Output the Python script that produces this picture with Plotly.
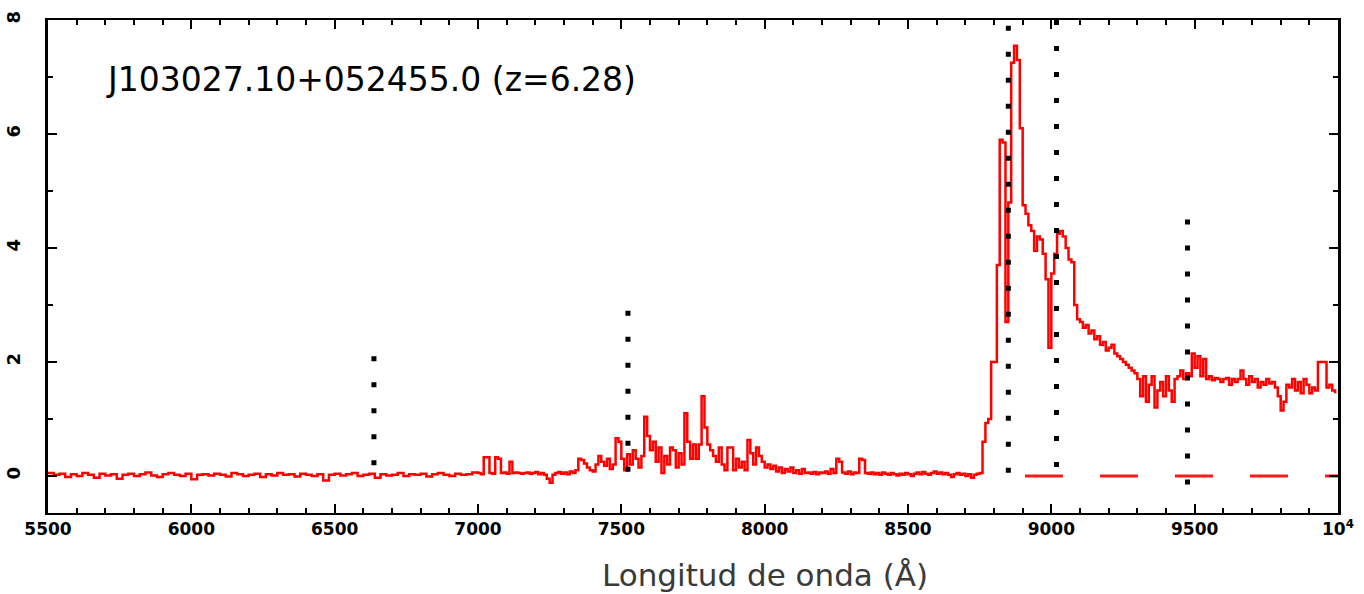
import numpy as np
import plotly.graph_objects as go

# ---------------- data ----------------
# Blue part of the spectrum: 5500-6980 A, 20 A bins
blue_start, blue_step = 5500, 20
blue_flux = [0.05, 0.02, 0.04, -0.02, 0.03, 0.00, 0.05, 0.02, -0.03, 0.04,
             0.01, 0.03, -0.05, 0.02, 0.04, 0.00, 0.03, 0.06, 0.01, -0.02,
             0.03, 0.05, 0.02, 0.00, 0.04, -0.06, 0.02, 0.03, 0.01, 0.04,
             0.02, -0.01, 0.05, 0.03, 0.00, 0.02, 0.04, -0.02, 0.03, 0.01,
             0.05, 0.02, 0.03, -0.01, 0.04, 0.02, 0.00, 0.03, -0.08, 0.02,
             0.04, 0.01, 0.03, 0.05, 0.00, 0.02, 0.04, -0.03, 0.03, 0.01,
             0.02, 0.05, 0.00, 0.03, 0.02, 0.04, -0.01, 0.03, 0.05, 0.02,
             0.00, 0.04, 0.02, 0.03, 0.06]

# Middle part: 7000-8750 A, 10 A bins
mid_start, mid_step = 7000, 10
mid_flux = [0.05, 0.03, 0.33, 0.33, 0.05, 0.04, 0.33, 0.30, 0.05, 0.06,
            0.04, 0.25, 0.05, 0.06, 0.05, 0.04, 0.05, 0.06, 0.04, 0.05,
            0.07, 0.03, 0.05, 0.02, -0.05, -0.12, 0.02, 0.05, 0.07, 0.04,
            0.06, 0.03, 0.08, 0.05, 0.10, 0.30, 0.28, 0.22, 0.15, 0.10,
            0.08, 0.20, 0.35, 0.25, 0.18, 0.30, 0.12, 0.20, 0.66, 0.60,
            0.30, 0.10, 0.38, 0.20, 0.45, 0.30, 0.15, 0.35, 1.04, 0.70,
            0.45, 0.60, 0.25, 0.50, 0.05, 0.35, 0.20, 0.50, 0.45, 0.15,
            0.40, 0.20, 1.10, 0.60, 0.30, 0.55, 0.30, 0.55, 1.40, 0.85,
            0.55, 0.45, 0.35, 0.25, 0.50, 0.20, 0.10, 0.50, 0.50, 0.10,
            0.30, 0.15, 0.25, 0.10, 0.63, 0.40, 0.20, 0.50, 0.35, 0.25,
            0.15, 0.20, 0.12, 0.18, 0.08, 0.15, 0.05, 0.12, 0.08, 0.15,
            0.05, 0.10, 0.04, 0.12, 0.05, 0.06, 0.04, 0.07, 0.03, 0.06,
            0.05, 0.08, 0.04, 0.12, 0.05, 0.30, 0.25, 0.06, 0.04, 0.08,
            0.03, 0.06, 0.05, 0.30, 0.28, 0.05, 0.04, 0.06, 0.03, 0.05,
            0.02, 0.06, 0.04, 0.02, 0.05, 0.03, 0.01, 0.04, 0.02, 0.05,
            0.03, 0.00, 0.04, 0.06, 0.03, 0.07, 0.04, 0.02, 0.05, 0.08,
            0.04, 0.06, 0.03, 0.05, 0.02, -0.02, 0.03, 0.05, 0.02, 0.04,
            0.00, 0.03, -0.03, 0.02, 0.04, 0.05]

# Red part: 8760-9990 A, 10 A bins
red_start, red_step = 8760, 10
red_flux = [0.60, 0.93, 1.00, 2.00, 2.00, 3.70, 5.90, 5.85, 2.70, 4.80,
            7.25, 7.55, 7.30, 6.10, 4.75, 4.60, 4.40, 4.30, 3.95, 4.20,
            4.15, 3.90, 3.45, 2.25, 3.55, 3.90, 4.25, 4.30, 4.20, 4.00,
            3.80, 3.75, 3.00, 2.75, 2.70, 2.60, 2.65, 2.50, 2.55, 2.40,
            2.45, 2.30, 2.35, 2.20, 2.25, 2.30, 2.15, 2.10, 2.05, 2.00,
            1.95, 1.90, 1.85, 1.80, 1.70, 1.40, 1.75, 1.30, 1.60, 1.75,
            1.20, 1.50, 1.65, 1.40, 1.75, 1.50, 1.30, 1.70, 1.75, 1.85,
            1.70, 1.80, 1.75, 2.15, 1.90, 2.10, 1.75, 2.05, 1.70, 1.75,
            1.68, 1.72, 1.70, 1.65, 1.70, 1.72, 1.60, 1.70, 1.65, 1.70,
            1.85, 1.70, 1.60, 1.75, 1.65, 1.70, 1.55, 1.65, 1.60, 1.70,
            1.62, 1.65, 1.55, 1.40, 1.15, 1.30, 1.60, 1.55, 1.70, 1.50,
            1.65, 1.45, 1.70, 1.60, 1.45, 1.55, 1.50, 2.00, 2.00, 2.00,
            1.55, 1.60, 1.50, 1.45]

# Dashed zero level (visible redward of Lyman alpha)
zero_wave = [8908, 10000]
zero_flux = [0, 0]

# Dotted marker lines: wavelength, lower and upper flux
line_wave = [6637, 7523, 8850, 9018, 9475]
line_low = [0.0, 0.0, -0.2, 0.0, -0.2]
line_high = [2.1, 2.9, 7.9, 8.0, 4.5]

x_tickvals = [5500, 6000, 6500, 7000, 7500, 8000, 8500, 9000, 9500, 10000]
x_ticktext = ["5500", "6000", "6500", "7000", "7500", "8000", "8500",
              "9000", "9500", "10<sup>4</sup>"]
y_tickvals = [0, 2, 4, 6, 8]

label_text = "J103027.10+052455.0 (z=6.28)"
xtitle_text = "Longitud de onda (Å)"

# ---------------- build ----------------
def grid(start, step, vals):
    return [start + step * i for i in range(len(vals))]

wave = grid(blue_start, blue_step, blue_flux) + grid(mid_start, mid_step, mid_flux) \
    + grid(red_start, red_step, red_flux)
flux = blue_flux + mid_flux + red_flux

fig = go.Figure()

# zero level (dashed)
fig.add_trace(go.Scatter(x=zero_wave, y=zero_flux, mode="lines",
                         line=dict(color="#ff1a1a", width=3, dash="38px,37px"),
                         hoverinfo="skip", showlegend=False))

# spectrum
fig.add_trace(go.Scatter(x=wave, y=flux, mode="lines", line_shape="hv",
                         line=dict(color="#ff0000", width=2.5),
                         showlegend=False))

# dotted vertical lines
for w, lo, hi in zip(line_wave, line_low, line_high):
    fig.add_trace(go.Scatter(x=[w, w], y=[hi, lo], mode="lines",
                             line=dict(color="black", width=5, dash="5px,21px"),
                             hoverinfo="skip", showlegend=False))

fig.add_annotation(x=5695, y=6.95, xref="x", yref="y", text=label_text,
                   showarrow=False, xanchor="left", yanchor="middle",
                   font=dict(family="DejaVu Sans", size=33, color="black"))

fig.add_annotation(x=0.556, y=-0.126, xref="paper", yref="paper",
                   text=xtitle_text, showarrow=False,
                   xanchor="center", yanchor="middle",
                   font=dict(family="DejaVu Sans", size=31, color="#3a3a3a"))

fig.update_layout(
    width=1364, height=594,
    margin=dict(l=48, r=26, t=20, b=81),
    paper_bgcolor="white", plot_bgcolor="white",
    font=dict(family="DejaVu Sans", color="black"),
    xaxis=dict(range=[5500, 10000], tickmode="array", tickvals=x_tickvals,
               ticktext=x_ticktext, ticks="inside", ticklen=9, tickwidth=2,
               tickcolor="black", showline=True, linewidth=2, linecolor="black",
               mirror="ticks", showgrid=False, zeroline=False, automargin=False,
               tickfont=dict(size=17, family="DejaVu Sans", color="black",
                             weight="bold"),
               minor=dict(dtick=100, ticks="inside", ticklen=5, tickwidth=1.5,
                          tickcolor="black", showgrid=False)),
    yaxis=dict(range=[-0.65, 8], tickmode="array", tickvals=y_tickvals,
               ticks="inside", ticklen=9, tickwidth=2, tickcolor="black",
               showline=True, linewidth=3, linecolor="black", mirror="ticks",
               showgrid=False, zeroline=False, tickangle=-90, automargin=False,
               ticklabelstandoff=18,
               tickfont=dict(size=18, family="DejaVu Sans", color="black",
                             weight="bold"),
               minor=dict(dtick=1, ticks="inside", ticklen=5, tickwidth=1.5,
                          tickcolor="black", showgrid=False)),
)

fig.write_html("out.html")
